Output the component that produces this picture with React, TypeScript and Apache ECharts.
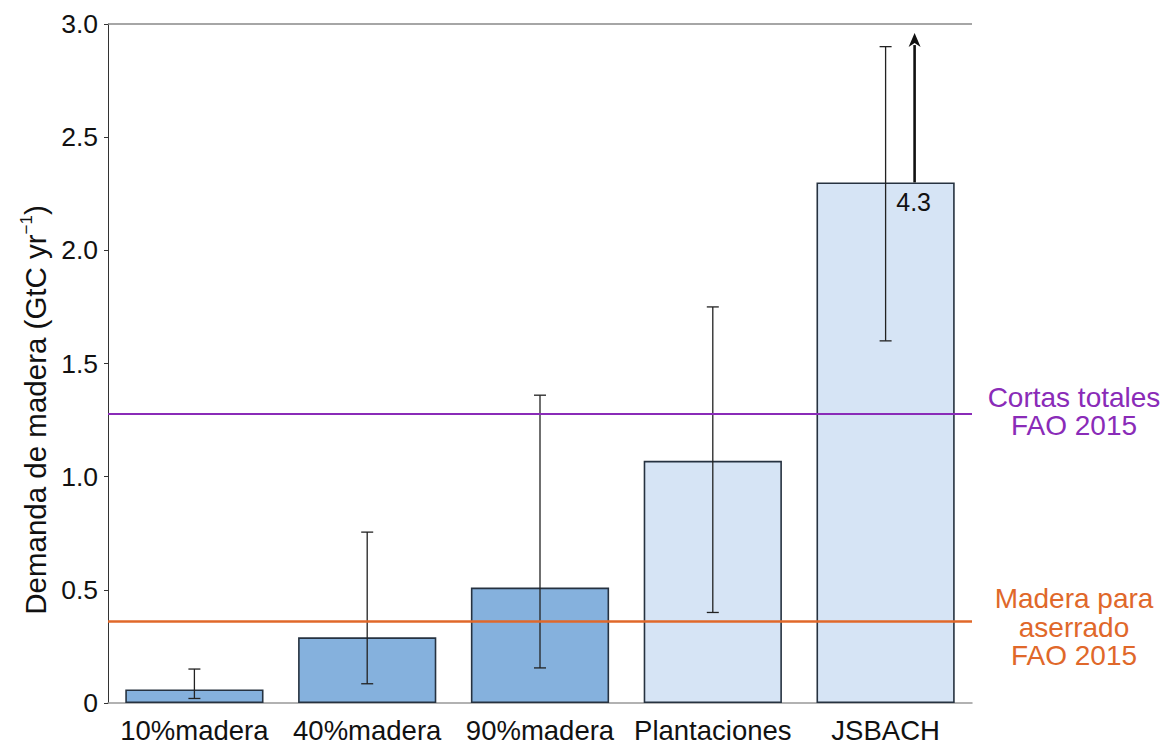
import React, { useEffect, useRef } from "react";
import * as echarts from "echarts";

const categories = ["10%madera", "40%madera", "90%madera", "Plantaciones", "JSBACH"];
const values = [0.06, 0.29, 0.51, 1.07, 2.3];
const errLow = [0.02, 0.085, 0.155, 0.4, 1.6];
const errHigh = [0.15, 0.755, 1.36, 1.75, 2.9];
const barShade = ["dark", "dark", "dark", "light", "light"];
const yTicks = [0, 0.5, 1.0, 1.5, 2.0, 2.5, 3.0];
const cortasTotales = 1.28;
const maderaAserrado = 0.36;
const arrowCategory = 4;
const arrowFrom = 2.3;
const arrowTo = 2.96;
const arrowLabel = "4.3";

const FONT = "'Liberation Sans', Arial, Helvetica, sans-serif";
const PURPLE = "#8A2BB8";
const ORANGE = "#E0682A";

export default function App() {
  const ref = useRef<HTMLDivElement>(null);
  useEffect(() => {
    if (!ref.current) return;
    const chart = echarts.init(ref.current, null, { renderer: "svg" });
    const option: any = {
      animation: false,
      backgroundColor: "#ffffff",
      grid: { left: 108, right: 196, top: 24, bottom: 46 },
      xAxis: {
        type: "category",
        data: categories,
        axisLine: { lineStyle: { color: "#999", width: 1.5 } },
        axisTick: { show: false },
        axisLabel: { fontFamily: FONT, fontSize: 27.5, color: "#111", margin: 13, interval: 0 },
      },
      yAxis: {
        type: "value",
        min: yTicks[0],
        max: yTicks[yTicks.length - 1],
        interval: 0.5,
        axisLine: { show: true, lineStyle: { color: "#333", width: 1 } },
        axisTick: { show: true, length: 4, lineStyle: { color: "#333" } },
        splitLine: { show: false },
        axisLabel: {
          fontFamily: FONT,
          fontSize: 26.5,
          color: "#111",
          margin: 10,
          formatter: (v: number) => (v === 0 ? "0" : v.toFixed(1)),
        },
      },
      series: [
        {
          type: "bar",
          barCategoryGap: "20%",
          data: values.map((v, i) => ({
            value: v,
            itemStyle: {
              color: barShade[i] === "dark" ? "#85B1DD" : "#D6E4F5",
              borderColor: "#263240",
              borderWidth: 1.6,
            },
          })),
          markLine: {
            silent: true,
            symbol: "none",
            label: { show: false },
            z: 10,
            data: [
              { yAxis: yTicks[yTicks.length - 1], lineStyle: { color: "#888", width: 1.5, type: "solid" } },
              { yAxis: cortasTotales, lineStyle: { color: PURPLE, width: 2, type: "solid" } },
              { yAxis: maderaAserrado, lineStyle: { color: ORANGE, width: 2.5, type: "solid" } },
            ],
          },
        },
        {
          type: "custom",
          z: 5,
          data: categories.map((_, i) => [i, errLow[i], errHigh[i]]),
          renderItem: (params: any, api: any) => {
            const x = api.value(0);
            const lo = api.coord([x, api.value(1)]);
            const hi = api.coord([x, api.value(2)]);
            const cap = 6;
            const style = { stroke: "#222", lineWidth: 1.3 };
            return {
              type: "group",
              children: [
                { type: "line", shape: { x1: lo[0], y1: lo[1], x2: hi[0], y2: hi[1] }, style },
                { type: "line", shape: { x1: lo[0] - cap, y1: lo[1], x2: lo[0] + cap, y2: lo[1] }, style },
                { type: "line", shape: { x1: hi[0] - cap, y1: hi[1], x2: hi[0] + cap, y2: hi[1] }, style },
              ],
            };
          },
        },
        {
          type: "custom",
          z: 6,
          data: [[arrowCategory, arrowFrom, arrowTo]],
          renderItem: (params: any, api: any) => {
            const x = api.value(0);
            const p0 = api.coord([x, api.value(1)]);
            const p1 = api.coord([x, api.value(2)]);
            const dx = 29;
            const ax = p0[0] + dx;
            const headH = 14;
            const headW = 6;
            return {
              type: "group",
              children: [
                {
                  type: "line",
                  shape: { x1: ax, y1: p0[1], x2: ax, y2: p1[1] + headH - 2 },
                  style: { stroke: "#111", lineWidth: 2.6 },
                },
                {
                  type: "polygon",
                  shape: {
                    points: [
                      [ax, p1[1]],
                      [ax - headW, p1[1] + headH],
                      [ax, p1[1] + headH - 4],
                      [ax + headW, p1[1] + headH],
                    ],
                  },
                  style: { fill: "#111" },
                },
                {
                  type: "text",
                  x: ax - 1,
                  y: p0[1] + 20,
                  style: {
                    text: arrowLabel,
                    fontFamily: FONT,
                    fontSize: 25,
                    fill: "#111",
                    align: "center",
                    verticalAlign: "middle",
                  },
                },
              ],
            };
          },
        },
      ],
      graphic: [
        {
          type: "text",
          x: 35,
          y: 410,
          rotation: Math.PI / 2,
          style: {
            text: "Demanda de madera (GtC yr{sup|−1})",
            fontFamily: FONT,
            fontSize: 29.5,
            fill: "#111",
            align: "center",
            verticalAlign: "middle",
            lineHeight: 34,
            rich: {
              sup: { fontFamily: FONT, fontSize: 17, fill: "#111", verticalAlign: "top", lineHeight: 34 },
            },
          },
        },
        {
          type: "text",
          x: 1074,
          y: 411,
          style: {
            text: "Cortas totales\nFAO 2015",
            fontFamily: FONT,
            fontSize: 28,
            lineHeight: 28,
            fill: PURPLE,
            align: "center",
            verticalAlign: "middle",
          },
        },
        {
          type: "text",
          x: 1074,
          y: 627,
          style: {
            text: "Madera para\naserrado\nFAO 2015",
            fontFamily: FONT,
            fontSize: 28,
            lineHeight: 28.5,
            fill: ORANGE,
            align: "center",
            verticalAlign: "middle",
          },
        },
      ],
    };
    chart.setOption(option);
    return () => chart.dispose();
  }, []);
  return <div ref={ref} style={{ width: 1168, height: 749, position: "absolute", left: 0, top: 0 }} />;
}
